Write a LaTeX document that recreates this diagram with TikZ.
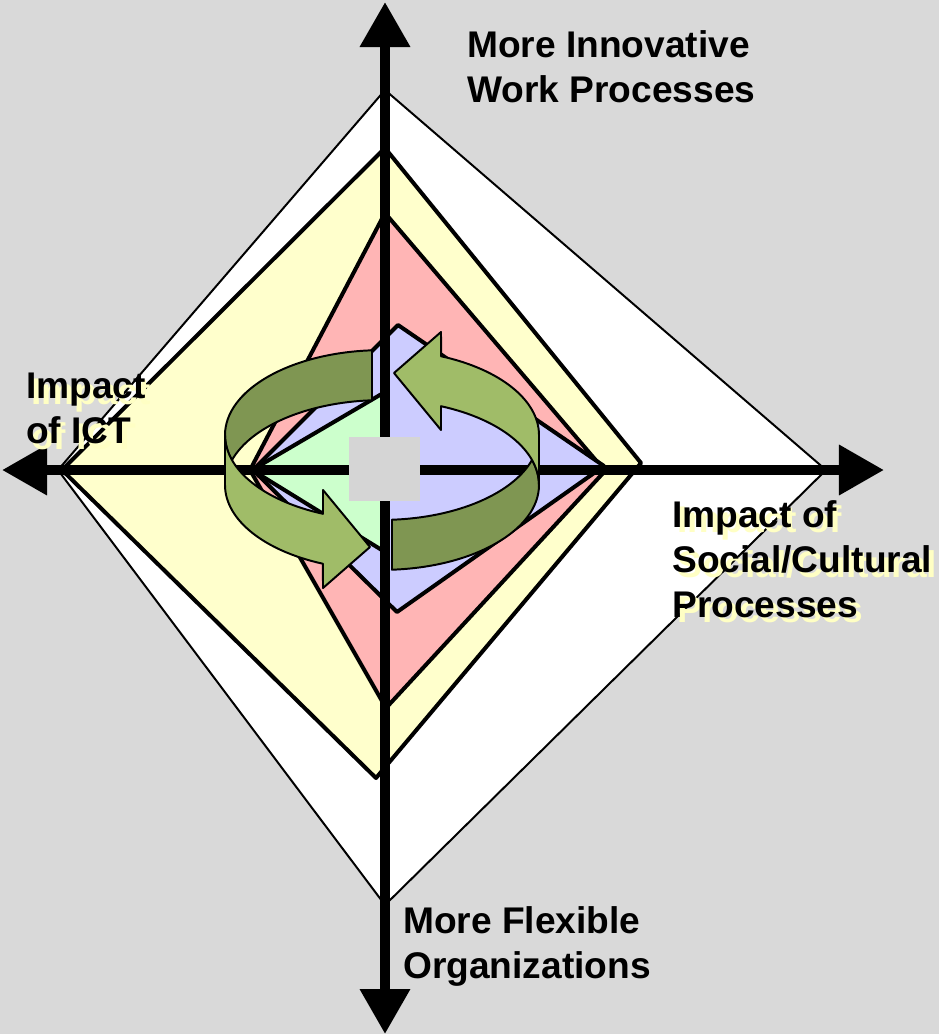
\documentclass[tikz,border=0pt]{standalone}
\usepackage{fontspec}
\setmainfont{Liberation Sans}
\usetikzlibrary{arrows.meta}

\definecolor{bgGray}{RGB}{217,217,217}
\definecolor{hubGray}{RGB}{213,213,213}
\definecolor{zoneYellow}{RGB}{255,255,204}
\definecolor{zonePink}{RGB}{255,181,181}
\definecolor{zoneBlue}{RGB}{204,204,255}
\definecolor{zoneGreen}{RGB}{204,255,204}
\definecolor{bandLight}{RGB}{160,188,104}
\definecolor{bandDark}{RGB}{127,150,82}
\definecolor{glow}{RGB}{255,255,196}

\tikzset{
    bigaxis/.style={line width=7.1pt,
        {Triangle[length=1.125cm,width=1.2cm]}-{Triangle[length=1.125cm,width=1.2cm]}},
    zone/.style={draw, line width=2.85pt, line join=round},
    band/.style={draw, line width=1.4pt, line join=round},
    caption/.style={font=\bfseries\fontsize{26.4}{32}\selectfont, align=left,
        anchor=base west, inner sep=0pt},
}

\begin{document}
\begin{tikzpicture}[x=0.025cm, y=-0.025cm]
    \useasboundingbox (0, 0) rectangle (939, 1034);
    \fill [bgGray] (0, 0) rectangle (939, 1034);
    % nested zones, outermost first
    \draw [zone, line width=1.4pt, fill=white] (385, 90) -- (826, 470) -- (385, 905) -- (58, 470) -- cycle;
    \draw [zone, fill=zoneYellow] (385, 148) -- (641, 463) -- (376, 778) -- (62, 470) -- cycle;
    \draw [zone, fill=zonePink] (385, 213) -- (605, 471) -- (386, 708) -- (250, 470) -- cycle;
    \draw [zone, fill=zoneBlue] (398, 325) -- (604, 466) -- (397, 612) -- (253, 470) -- cycle;
    \draw [zone, fill=zoneGreen] (385, 392) -- (385, 552) -- (252, 470) -- cycle;

    \coordinate (north) at (385, 2);
    \coordinate (south) at (385, 1034);
    \coordinate (west) at (2, 470);
    \coordinate (east) at (884, 470);
    \draw [bigaxis] (south) -- (north);
    \draw [bigaxis] (west) -- (east);

    \fill [hubGray] (349, 437) rectangle (420, 501);

    % the two twisted arrows, second one is the first turned half way
    \foreach \turn in {0, 180}{
        \begin{scope}[shift={(382, 460)}, rotate=\turn]
            \draw [band, fill=bandDark] (-10, -109.7)
                arc [start angle=266.35, end angle=180, x radius=157, y radius=85]
                arc [start angle=180, end angle=162.9, x radius=157, y radius=85]
                arc [start angle=197.1, end angle=266.35, x radius=157, y radius=85]
                -- cycle;
            \draw [band, fill=bandLight] (-157, -25) -- (-157, 25)
                arc [start angle=180, end angle=112.1, x radius=157, y radius=85]
                -- (-59, 128) -- (-12, 87) -- (-59, 30) -- (-59, 53.8)
                arc [start angle=112.1, end angle=180, x radius=157, y radius=85]
                -- cycle;
        \end{scope}
    }

    % anchors sit on the baseline of the last line
    \node [caption] (innov) at (467, 102) {More Innovative\\Work Processes};
    \node [caption] (flex) at (403, 978) {More Flexible\\Organizations};
    \node [caption, text=glow] at (31, 449) {Impact\\of ICT};
    \node [caption] (ict) at (26, 443) {Impact\\of ICT};
    \node [caption, text=glow] at (677, 622) {Impact of\\Social/Cultural\\Processes};
    \node [caption] (social) at (672, 617) {Impact of\\Social/Cultural\\Processes};
\end{tikzpicture}
\end{document}
